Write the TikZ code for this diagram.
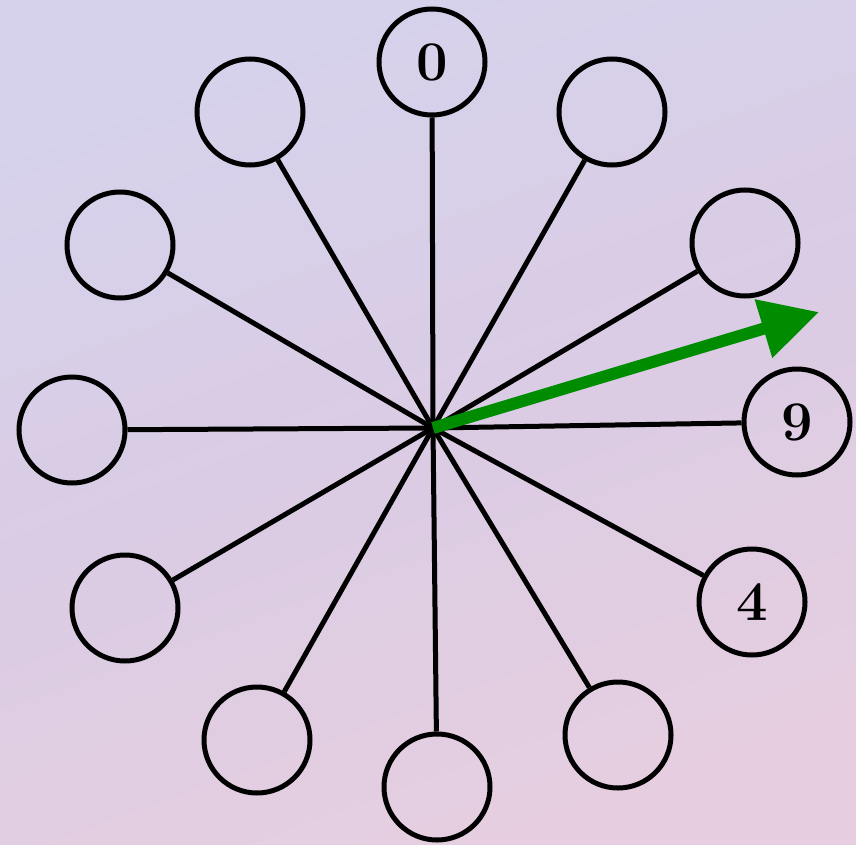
\documentclass[tikz,border=0pt]{standalone}
\usepackage{fontspec}
\usetikzlibrary{arrows.meta}
\definecolor{bgtop}{RGB}{214,210,236}
\definecolor{bgbot}{RGB}{230,206,224}
\definecolor{bgmid}{RGB}{218,204,228}
\definecolor{arrowgreen}{RGB}{0,140,0}
\newcommand{\digitfont}{\fontsize{56pt}{56pt}\selectfont\bfseries}
\begin{document}
\begin{tikzpicture}[x=1pt,y=-1pt]
\tikzset{
  ball/.style={circle,draw=black,line width=5pt,minimum size=106pt,inner sep=0pt,font=\digitfont},
  spoke/.style={line width=5pt,draw=black}}
\shade[top color=bgtop,bottom color=bgbot,middle color=bgmid,shading angle=20] (0,0) rectangle (856,845);
\useasboundingbox (0,0) rectangle (856,845);
\coordinate (c) at (433,428);
\node[ball] (n0) at (432,62) {0};
\node[ball] (n1) at (612,112) {};
\node[ball] (n2) at (745,243) {};
\node[ball] (n3) at (797,422) {9};
\node[ball] (n4) at (752,602) {4};
\node[ball] (n5) at (618,735) {};
\node[ball] (n6) at (437,787) {};
\node[ball] (n7) at (257,740) {};
\node[ball] (n8) at (125,608) {};
\node[ball] (n9) at (72,430) {};
\node[ball] (n10) at (120,245) {};
\node[ball] (n11) at (250,112) {};
\foreach \i in {0,...,11} { \draw[spoke] (c) -- (n\i); }
\fill[black] (c) circle (6pt);
\coordinate (tip) at (819,312);
\draw[arrowgreen,line width=12pt,-{Triangle[length=58pt,width=58pt]}] (c) -- (tip);
\end{tikzpicture}
\end{document}
